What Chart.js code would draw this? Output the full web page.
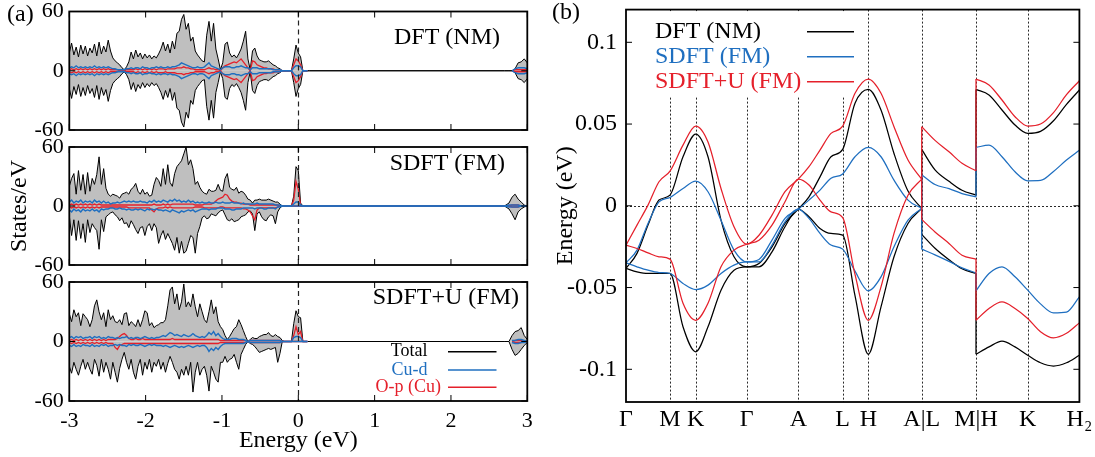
<!DOCTYPE html>
<html>
<head>
<meta charset="utf-8">
<script src="https://cdn.jsdelivr.net/npm/chart.js@4/dist/chart.umd.min.js"></script>
<style>
  html, body { margin:0; padding:0; background:#fff; }
  body { width:1095px; height:457px; position:relative; overflow:hidden; }
  canvas { position:absolute; }
</style>
</head>
<body>
<canvas id="dos1" width="545" height="160" style="left:0px;top:-10px"></canvas>
<canvas id="dos2" width="545" height="160" style="left:0px;top:125px"></canvas>
<canvas id="dos3" width="545" height="198" style="left:0px;top:260px"></canvas>
<canvas id="band" width="570" height="462" style="left:540px;top:-20px"></canvas>
<script>
const FAMILY = "'Liberation Serif','Times New Roman',serif";
Chart.defaults.font.family = FAMILY;
Chart.defaults.color = '#000';
const BLACK = '#000000', BLUE = '#1f6fc0', RED = '#e5202b', GREY = '#bfbfbf';

// ---------------- (a) density of states ----------------
// energy grid (eV): -3.00 ... 0.12 in 0.03 steps, then the high-energy window
const dosEnergy = Array.from({length:105}, (_, i) => Math.round((-3 + 0.03*i)*100)/100)
  .concat([0.15, 2.70, 2.76, 2.80, 2.84, 2.88, 2.92, 2.96, 3.00]);
const dosTicksX = [-3, -2, -1, 0, 1, 2, 3];
const dosTicksY = [-60, 0, 60];
const dosPanelNames = ['DFT (NM)', 'SDFT (FM)', 'SDFT+U (FM)'];
const dosSeriesNames = ['Total', 'Cu-d', 'O-p (Cu)'];

// DFT (NM): spin-up = spin-down (drawn mirrored)
const dftTotal = [18,28,16,24,14,26,17,25,15,23, 18,27,15,29,17,25,19,31,20,13, 10,8,6,3,1,4,9,19,12,21,
  14,18,12,17,13,16,12,15,13,17, 22,29,20,27,18,30,22,38,40,52, 57,42,48,30,34,20,16,13,10,9,
  36,50,30,48,22,12,1,8,27,29, 18,14,16,13,17,22,30,40,12,1, 20,23,15,11,10,9,9,10,8,6,
  5,3,2,0,0,0,0,0,12,26, 18,14,0,0,0,  0,0,0,0,2,8,9,12,8];
const dftCuD = [3,4,3,5,3,4,3,4,3,4, 3,5,3,4,3,4,3,4,3,2, 2,1,1,1,1,2,2,3,2,3,
  3,2,4,3,3,2,3,3,4,3, 4,3,3,4,3,4,4,5,6,8, 7,6,5,4,3,3,4,3,3,4,
  6,8,5,4,3,2,1,3,4,4, 4,3,3,4,4,5,4,3,3,1, 3,3,3,2,2,2,2,2,2,1,
  1,1,1,0,0,0,0,0,3,5, 5,4,0,0,0,  null,null,null,0,2,3,3,3,2];
const dftOp = [1,2,1,2,1,2,1,2,1,2, 1,2,1,2,1,2,1,2,1,1, 1,1,0,0,0,1,1,1,1,2,
  1,2,1,2,1,2,1,2,1,2, 2,2,1,2,2,2,2,3,3,3, 4,3,3,2,2,1,1,1,1,1,
  2,3,2,2,1,1,0,3,5,6, 7,8,9,8,10,12,9,6,3,0, 10,9,6,5,4,3,3,2,2,2,
  1,1,1,0,0,0,0,0,6,12, 10,6,0,0,0,  null,null,null,0,1,1,1,1,1];

// SDFT (FM)
const sdftTotalUp = [20,28,33,12,36,16,32,12,34,15, 28,22,32,50,22,38,18,12,10,12, 11,10,8,12,13,14,12,17,19,23,
  15,12,17,12,14,10,11,22,29,26, 20,38,22,42,24,20,33,40,43,46, 53,60,42,47,38,22,25,19,15,13,
  12,17,15,15,16,22,16,15,28,33, 19,17,16,19,13,15,14,11,7,6, 3,6,6,7,6,6,6,7,6,5,
  4,4,2,0,0,0,0,0,10,40, 36,3,0,0,0,  0,0,3,9,12,7,4,1,0];
const sdftTotalDn = [-10,-30,-14,-35,-15,-33,-18,-37,-14,-27, -18,-22,-25,-44,-14,-26,-11,-9,-7,-6, -9,-11,-15,-12,-18,-17,-22,-15,-19,-24,
  -28,-22,-21,-30,-21,-18,-25,-18,-22,-38, -30,-25,-34,-28,-33,-38,-45,-32,-48,-36, -48,-46,-38,-30,-32,-48,-28,-21,-12,-10,
  -13,-12,-8,-9,-10,-7,-5,-4,-9,-14, -15,-13,-16,-15,-14,-11,-10,-9,-6,-5, -8,-25,-8,-6,-11,-14,-15,-11,-9,-10,
  -18,-6,-2,0,0,0,0,0,0,0, 0,0,0,0,0,  0,0,-3,-8,-14,-6,-3,-1,0];
const sdftCuDUp = [4,6,3,5,4,6,3,5,4,5, 3,6,4,5,3,5,3,4,2,3, 3,4,3,4,5,4,5,4,5,4,
  4,5,4,4,3,5,4,6,4,5, 4,6,5,4,6,5,7,5,6,4, 5,4,6,4,5,3,4,3,4,3,
  3,4,3,3,4,3,3,4,3,3, 3,4,3,3,3,2,3,2,2,2, 2,2,3,2,2,2,2,2,2,2,
  1,1,1,0,0,0,0,0,2,4, 4,1,0,0,0,  0,0,1,1,1,1,0,0,0];
const sdftCuDDn = [-4,-6,-3,-5,-4,-6,-3,-5,-4,-5, -3,-5,-4,-6,-3,-4,-3,-3,-2,-2, -3,-3,-2,-3,-3,-4,-3,-4,-4,-3,
  -4,-3,-4,-5,-3,-4,-3,-4,-3,-4, -4,-5,-4,-5,-6,-4,-5,-6,-7,-5, -6,-5,-4,-5,-4,-6,-5,-4,-3,-3,
  -3,-4,-3,-3,-3,-2,-2,-2,-3,-3, -3,-4,-4,-3,-3,-3,-2,-2,-2,-2, -2,-3,-2,-2,-2,-3,-3,-2,-2,-2,
  -3,-1,-1,0,0,0,0,0,0,0, 0,0,0,0,0,  0,0,-1,-1,-1,-1,0,0,0];
const sdftOpUp = [1,2,1,2,1,2,1,2,1,2, 1,2,1,2,1,1,1,1,1,1, 1,1,1,1,1,1,1,1,1,1,
  1,1,1,1,1,1,1,2,1,1, 1,2,1,2,1,2,2,2,2,2, 2,2,2,2,2,1,1,1,1,2,
  2,2,2,3,5,7,8,9,12,11, 7,5,4,4,3,3,2,2,2,1, 1,1,1,1,1,1,1,1,1,1,
  1,1,0,0,0,0,0,0,6,25, 17,1,0,0,0,  0,0,0,1,1,1,0,0,0];
const sdftOpDn = [-1,-2,-1,-2,-1,-2,-1,-2,-1,-2, -1,-2,-1,-2,-1,-1,-1,-1,-1,-1, -1,-1,-1,-1,-1,-1,-2,-2,-2,-2,
  -2,-2,-2,-2,-2,-2,-4,-6,-3,-2, -2,-2,-1,-2,-1,-2,-2,-2,-2,-2, -2,-2,-2,-2,-2,-1,-1,-1,-1,-2,
  -2,-2,-2,-2,-2,-2,-1,-1,-2,-2, -2,-2,-2,-2,-2,-2,-3,-3,-4,-6, -10,-14,-4,-2,-2,-2,-2,-2,-2,-2,
  -2,-1,0,0,0,0,0,0,0,0, 0,0,0,0,0,  0,0,0,-1,-1,-1,0,0,0];

// SDFT+U (FM)
const sdftuTotalUp = [28,20,32,25,29,16,28,25,22,15, 22,36,42,30,22,29,15,32,22,26, 20,19,22,17,28,29,16,20,18,15,
  22,15,22,31,29,16,19,14,16,17, 19,19,22,36,52,55,38,48,32,40, 58,35,40,35,48,35,25,38,30,22,
  19,30,42,28,35,20,15,12,6,2, 5,9,13,15,22,17,11,5,0,2, 4,3,3,5,6,7,7,9,6,5,
  7,5,4,1,0,0,0,0,18,31, 25,24,0,0,0,  0,0,0,6,10,11,14,6,2];
const sdftuTotalDn = [-25,-32,-21,-28,-34,-25,-18,-28,-21,-28, -33,-18,-24,-35,-18,-31,-21,-28,-38,-21, -31,-41,-27,-18,-11,-21,-28,-18,-31,-38,
  -25,-18,-34,-21,-28,-18,-31,-21,-25,-18, -28,-21,-31,-22,-15,-21,-28,-31,-38,-28, -34,-25,-34,-21,-51,-31,-21,-34,-28,-25,
  -34,-50,-25,-31,-38,-41,-21,-21,-15,-21, -18,-17,-13,-21,-28,-13,-8,-3,0,-2, -3,-5,-8,-11,-10,-9,-8,-7,-8,-7,
  -6,-21,-12,0,0,0,0,0,0,0, 0,0,0,0,0,  0,0,0,-8,-14,-12,-8,-4,-1];
const sdftuCuDUp = [4,5,3,5,4,5,3,4,4,5, 3,5,4,5,3,4,3,5,4,4, 3,4,3,4,4,5,3,4,3,4,
  4,3,4,5,4,3,4,3,4,4, 5,6,5,7,9,8,6,7,6,5, 7,6,5,6,8,6,5,4,5,4,
  6,9,7,10,6,8,5,3,2,2, 2,3,3,3,2,2,2,1,0,1, 1,1,1,1,1,1,1,1,1,1,
  1,1,1,0,0,0,0,0,4,5, 5,4,0,0,0,  null,null,null,1,1,2,2,1,0];
const sdftuCuDDn = [-4,-5,-3,-5,-4,-5,-3,-4,-4,-5, -3,-5,-4,-5,-3,-4,-3,-5,-4,-4, -3,-4,-3,-4,-4,-5,-3,-4,-3,-4,
  -4,-3,-4,-5,-4,-3,-4,-3,-4,-4, -4,-5,-4,-5,-6,-5,-4,-5,-6,-5, -6,-5,-4,-5,-6,-5,-4,-5,-4,-4,
  -6,-10,-7,-9,-6,-8,-5,-3,-2,-2, -2,-2,-2,-2,-2,-2,-2,-1,0,-1, -1,-1,-1,-1,-1,-1,-1,-1,-1,-1,
  -1,-1,-1,0,0,0,0,0,0,0, 0,0,0,0,0,  null,null,null,-1,-2,-2,-1,-1,0];
const sdftuOpUp = [1,2,1,2,1,2,1,2,1,2, 1,2,1,2,1,2,1,2,2,2, 2,3,5,7,8,6,3,2,2,3,
  2,2,3,2,2,2,2,2,2,2, 2,2,2,2,2,3,2,2,2,2, 2,2,2,2,2,2,2,2,2,2,
  2,2,2,2,2,2,1,1,1,1, 1,1,1,1,1,1,1,1,0,1, 1,1,1,1,1,1,1,1,1,1,
  1,1,1,0,0,0,0,0,6,15, 7,10,0,0,0,  null,null,null,0,1,1,1,0,0];
const sdftuOpDn = [-1,-2,-1,-2,-1,-2,-1,-2,-1,-2, -1,-2,-1,-2,-1,-2,-1,-2,-2,-2, -6,-8,-4,-3,-2,-2,-2,-2,-2,-2,
  -2,-2,-2,-2,-2,-2,-2,-2,-2,-2, -2,-2,-2,-2,-2,-2,-2,-2,-2,-2, -2,-2,-2,-2,-2,-2,-2,-2,-2,-2,
  -2,-2,-2,-2,-2,-2,-1,-1,-1,-1, -1,-1,-1,-1,-1,-1,-1,-1,0,-1, -1,-1,-1,-1,-1,-1,-1,-1,-1,-1,
  -1,-1,-1,0,0,0,0,0,0,0, 0,0,0,0,0,  null,null,null,0,-1,-1,-1,0,0];

// ---------------- (b) band structure ----------------
const kTickPos = [0, 44, 69.7, 120.7, 172.3, 216.7, 242.3, 295.7, 350, 401.7, 453.4];
const kTickLabels = ['\u0393', 'M', 'K', '\u0393', 'A', 'L', 'H', 'A|L', 'M|H', 'K', 'H\u2082'];
const energyTicks = [-0.1, -0.05, 0, 0.05, 0.1];
const bandSeriesNames = ['DFT (NM)', 'SDFT (FM)', 'SDFT+U (FM)'];
// k-path samples: piece A = Γ-M-K-Γ-A-L-H-A, piece B = L-M, piece C = H-K-H2
const kA = [0, 11, 22, 33, 44, 57, 69.7, 82, 95, 108, 120.7, 133, 146, 159, 172.3, 183, 194, 205, 216.7, 229, 242.3, 255, 268, 282, 295.7];
const kB = [295.7, 309, 323, 336, 350];
const kC = [350, 363, 376, 389, 401.7, 414.5, 427.5, 440.5, 453.4];

const dftUpperA = [-0.0383,-0.0291,-0.0118,0.0035,0.0065,0.030,0.0439,0.030,-0.0088,-0.0312,-0.0373,-0.0353,-0.0251,-0.0108,-0.002,0.0055,0.0177,0.030,0.0345,0.0627,0.0712,0.0586,0.032,0.009,-0.0016];
const dftLowerA = [-0.0383,-0.0404,-0.0414,-0.0414,-0.0414,-0.074,-0.0893,-0.074,-0.0516,-0.0394,-0.0373,-0.0373,-0.0282,-0.0128,-0.002,-0.0067,-0.0139,-0.0169,-0.0179,-0.055,-0.0908,-0.0618,-0.0312,-0.0108,-0.0016];
const dftUpperB = [0.0345, 0.022, 0.015, 0.0095, 0.0065];
const dftLowerB = [-0.0175, -0.026, -0.033, -0.0385, -0.0414];
const dftUpperC = [0.0712, 0.0678, 0.0586, 0.0494, 0.0443, 0.0455, 0.052, 0.062, 0.0708];
const dftLowerC = [-0.0908, -0.0863, -0.0828, -0.0863, -0.0914, -0.096, -0.098, -0.096, -0.0914];

const sdftUpperA = [-0.0349,-0.0271,-0.0108,0.0024,0.0051,0.0106,0.0151,0.0086,-0.0088,-0.0271,-0.0343,-0.0328,-0.021,-0.0077,-0.002,0.0035,0.0096,0.0168,0.0195,0.030,0.0357,0.030,0.0157,0.0035,-0.0016];
const sdftLowerA = [-0.0349,-0.0373,-0.0394,-0.0408,-0.0414,-0.0475,-0.0512,-0.0485,-0.0414,-0.0363,-0.0343,-0.0343,-0.024,-0.0098,-0.002,-0.0077,-0.0169,-0.024,-0.0265,-0.040,-0.052,-0.0435,-0.0251,-0.0088,-0.0016];
const sdftUpperB = [0.019, 0.013, 0.0105, 0.0075, 0.0055];
const sdftLowerB = [-0.0265, -0.030, -0.034, -0.038, -0.041];
const sdftUpperC = [0.0357, 0.0371, 0.030, 0.0208, 0.0153, 0.0155, 0.021, 0.028, 0.034];
const sdftLowerC = [-0.052, -0.0414, -0.0373, -0.0434, -0.0516, -0.060, -0.0655, -0.065, -0.0557];

const sdftuUpperA = [-0.0241,-0.0118,0.0004,0.0147,0.0212,0.0371,0.0488,0.039,0.0106,-0.0128,-0.0235,-0.018,-0.0057,0.0086,0.0163,0.0239,0.0341,0.0443,0.0487,0.0688,0.0775,0.0688,0.0484,0.028,0.0163];
const sdftuLowerA = [-0.0241,-0.0261,-0.0288,-0.0312,-0.0326,-0.0596,-0.070,-0.0596,-0.0373,-0.0271,-0.0235,-0.021,-0.0118,0.0025,0.0163,0.0127,0.0035,-0.0037,-0.0072,-0.042,-0.070,-0.0496,-0.0169,0.0065,0.0163];
const sdftuUpperB = [0.0484, 0.040, 0.033, 0.026, 0.0214];
const sdftuLowerB = [-0.0083, -0.016, -0.023, -0.0302, -0.0326];
const sdftuUpperC = [0.0775, 0.0739, 0.0647, 0.0545, 0.0488, 0.050, 0.057, 0.068, 0.0765];
const sdftuLowerC = [-0.070, -0.0628, -0.0588, -0.0628, -0.0689, -0.077, -0.0808, -0.078, -0.0716];

// ---------------- helpers / plugins ----------------
const pts = arr => arr.map((v, i) => ({x: dosEnergy[i], y: v}));
const neg = arr => arr.map(v => v == null ? null : -v);

function makeFrame(cfg) {
  return {
    id: 'frame',
    beforeDatasetsDraw(chart) {
      const {ctx, chartArea: a, scales: {x, y}} = chart;
      ctx.save();
      ctx.strokeStyle = '#111'; ctx.lineWidth = 0.9; ctx.setLineDash([2, 2]);
      (cfg.vDotted || []).forEach(v => {
        const p = Math.round(x.getPixelForValue(v)) + 0.5;
        ctx.beginPath(); ctx.moveTo(p, a.top); ctx.lineTo(p, a.bottom); ctx.stroke();
      });
      (cfg.hDotted || []).forEach(v => {
        const p = Math.round(y.getPixelForValue(v)) + 0.5;
        ctx.beginPath(); ctx.moveTo(a.left, p); ctx.lineTo(a.right, p); ctx.stroke();
      });
      ctx.setLineDash([]);
      if (cfg.clearBox) {
        const [ox, oy] = cfg.offset, b = cfg.clearBox;
        ctx.fillStyle = '#fff';
        ctx.fillRect(a.left + 1.5, a.top + 1.5, b.x2 - ox - a.left - 1.5, b.y2 - oy - a.top - 1.5);
      }
      ctx.restore();
    },
    afterDatasetsDraw(chart) {
      const {ctx, chartArea: a, scales: {x, y}} = chart;
      ctx.save();
      ctx.strokeStyle = '#222'; ctx.lineWidth = 1.2; ctx.setLineDash([5, 4]);
      (cfg.vDashed || []).forEach(v => {
        const p = Math.round(x.getPixelForValue(v)) + 0.5;
        ctx.beginPath(); ctx.moveTo(p, a.top); ctx.lineTo(p, a.bottom); ctx.stroke();
      });
      ctx.setLineDash([]);
      ctx.strokeStyle = '#000'; ctx.lineWidth = 1;
      const L = cfg.tickLen || 6;
      (cfg.xTicks || []).forEach(v => {
        const p = x.getPixelForValue(v);
        ctx.beginPath(); ctx.moveTo(p, a.bottom); ctx.lineTo(p, a.bottom - L);
        ctx.moveTo(p, a.top); ctx.lineTo(p, a.top + L); ctx.stroke();
      });
      (cfg.yTicks || []).forEach(v => {
        const p = y.getPixelForValue(v);
        ctx.beginPath(); ctx.moveTo(a.left, p); ctx.lineTo(a.left + L, p);
        ctx.moveTo(a.right, p); ctx.lineTo(a.right - L, p); ctx.stroke();
      });
      ctx.lineWidth = 1.8;
      ctx.strokeRect(a.left, a.top, a.right - a.left, a.bottom - a.top);
      ctx.restore();
    }
  };
}

function makeNotes(cfg) {
  return {
    id: 'notes',
    afterDraw(chart) {
      const ctx = chart.ctx, [ox, oy] = cfg.offset;
      ctx.save();
      (cfg.texts || []).forEach(t => {
        ctx.font = t.size + 'px ' + FAMILY;
        ctx.fillStyle = t.color || '#000';
        ctx.textAlign = t.align || 'left';
        ctx.textBaseline = 'middle';
        ctx.fillText(t.text, t.x - ox, t.y - oy);
      });
      (cfg.lines || []).forEach(l => {
        ctx.strokeStyle = l.color; ctx.lineWidth = l.width || 1.5;
        ctx.beginPath(); ctx.moveTo(l.x1 - ox, l.y - oy); ctx.lineTo(l.x2 - ox, l.y - oy); ctx.stroke();
      });
      ctx.restore();
    }
  };
}

function makeDos(id, d) {
  const line = (data, color, w, order, fill) => ({
    data: pts(data), borderColor: color, borderWidth: w, order,
    backgroundColor: fill ? GREY : 'transparent', fill: fill ? 'origin' : false,
    pointRadius: 0, tension: 0, spanGaps: false
  });
  new Chart(document.getElementById(id), {
    type: 'line',
    data: { datasets: [
      Object.assign(line(d.cuUp, BLUE, 1.4, 0, false), {label: dosSeriesNames[1]}),
      Object.assign(line(d.cuDn, BLUE, 1.4, 0, false), {label: dosSeriesNames[1]}),
      Object.assign(line(d.opUp, RED, 1.3, 1, false), {label: dosSeriesNames[2]}),
      Object.assign(line(d.opDn, RED, 1.3, 1, false), {label: dosSeriesNames[2]}),
      Object.assign(line(d.totUp, BLACK, 1, 2, true), {label: dosSeriesNames[0]}),
      Object.assign(line(d.totDn, BLACK, 1, 2, true), {label: dosSeriesNames[0]})
    ]},
    options: {
      responsive: false, animation: false, devicePixelRatio: 1,
      layout: { padding: { left: 0, right: 17.7, top: d.padTop, bottom: 0 } },
      plugins: { legend: { display: false }, tooltip: { enabled: false } },
      scales: {
        x: {
          type: 'linear', min: -3, max: 3,
          afterBuildTicks: s => { s.ticks = dosTicksX.map(v => ({value: v})); },
          grid: { display: false, drawTicks: false }, border: { display: false },
          ticks: { display: d.showX, autoSkip: false, maxRotation: 0, padding: 6.8,
                   font: { size: 22 }, color: '#000', callback: v => String(v) },
          title: { display: d.showX, text: 'Energy (eV)', font: { size: 24 }, color: '#000',
                   padding: { top: 0, bottom: 2.6 } },
          afterFit: s => { s.height = d.xH; }
        },
        y: {
          type: 'linear', min: -60, max: 60,
          afterBuildTicks: s => { s.ticks = dosTicksY.map(v => ({value: v})); },
          grid: { display: false, drawTicks: false }, border: { display: false },
          ticks: { font: { size: 22 }, color: '#000', padding: 5.5, callback: v => String(v) },
          title: { display: !!d.yTitle, text: d.yTitle || '', font: { size: 24 }, color: '#000',
                   padding: { top: 5.6, bottom: 0 } },
          afterFit: s => { s.width = 69.3; }
        }
      }
    },
    plugins: [
      makeFrame({ vDashed: [0], xTicks: dosTicksX, yTicks: dosTicksY, tickLen: 6 }),
      makeNotes(d.notes)
    ]
  });
}

makeDos('dos1', {
  totUp: dftTotal, totDn: neg(dftTotal), cuUp: dftCuD, cuDn: neg(dftCuD), opUp: dftOp, opDn: neg(dftOp),
  padTop: 21.5, xH: 20, showX: false,
  notes: { offset: [0, -10], texts: [
    { text: '(a)', x: 7, y: 15, size: 24, align: 'left' },
    { text: dosPanelNames[0], x: 500, y: 38, size: 24, align: 'right' }
  ]}
});
makeDos('dos2', {
  totUp: sdftTotalUp, totDn: sdftTotalDn, cuUp: sdftCuDUp, cuDn: sdftCuDDn, opUp: sdftOpUp, opDn: sdftOpDn,
  padTop: 22, xH: 20, showX: false, yTitle: 'States/eV',
  notes: { offset: [0, 125], texts: [
    { text: dosPanelNames[1], x: 505, y: 164, size: 24, align: 'right' }
  ]}
});
makeDos('dos3', {
  totUp: sdftuTotalUp, totDn: sdftuTotalDn, cuUp: sdftuCuDUp, cuDn: sdftuCuDDn, opUp: sdftuOpUp, opDn: sdftuOpDn,
  padTop: 22, xH: 57, showX: true,
  notes: { offset: [0, 260], texts: [
    { text: dosPanelNames[2], x: 519, y: 298, size: 24, align: 'right' },
    { text: dosSeriesNames[0], x: 427.6, y: 351.7, size: 18, align: 'right', color: BLACK },
    { text: dosSeriesNames[1], x: 427.6, y: 370, size: 18, align: 'right', color: BLUE },
    { text: dosSeriesNames[2], x: 441, y: 387.3, size: 18, align: 'right', color: RED }
  ], lines: [
    { x1: 448, x2: 496.5, y: 351.7, color: BLACK, width: 1.5 },
    { x1: 448, x2: 496.5, y: 370, color: BLUE, width: 1.5 },
    { x1: 448, x2: 496.5, y: 387.3, color: RED, width: 1.5 }
  ]}
});

// ---------------- band chart ----------------
const kPieces = [kA, kB, kC];
const bandSeries = [
  { name: bandSeriesNames[2], color: RED,   pieces: [[sdftuUpperA, sdftuLowerA], [sdftuUpperB, sdftuLowerB], [sdftuUpperC, sdftuLowerC]] },
  { name: bandSeriesNames[1], color: BLUE,  pieces: [[sdftUpperA, sdftLowerA], [sdftUpperB, sdftLowerB], [sdftUpperC, sdftLowerC]] },
  { name: bandSeriesNames[0], color: BLACK, pieces: [[dftUpperA, dftLowerA], [dftUpperB, dftLowerB], [dftUpperC, dftLowerC]] }
];
const bandDatasets = [];
bandSeries.forEach(s => {
  s.pieces.forEach((pair, pi) => pair.forEach(arr => bandDatasets.push({
    label: s.name, data: arr.map((v, i) => ({x: kPieces[pi][i], y: v})),
    borderColor: s.color, borderWidth: 1.25, cubicInterpolationMode: 'monotone',
    pointRadius: 0, fill: false
  })));
  for (let pi = 0; pi < 2; pi++) for (let b = 0; b < 2; b++) {
    const a = s.pieces[pi][b], c = s.pieces[pi + 1][b], xj = kPieces[pi + 1][0];
    bandDatasets.push({
      label: s.name, data: [{x: xj, y: a[a.length - 1]}, {x: xj, y: c[0]}],
      borderColor: s.color, borderWidth: 1.25, pointRadius: 0, fill: false, tension: 0
    });
  }
});

new Chart(document.getElementById('band'), {
  type: 'line',
  data: { datasets: bandDatasets },
  options: {
    responsive: false, animation: false, devicePixelRatio: 1,
    layout: { padding: { left: 0, right: 30.6, top: 29.6, bottom: 0 } },
    plugins: { legend: { display: false }, tooltip: { enabled: false } },
    scales: {
      x: {
        type: 'linear', min: 0, max: kTickPos[kTickPos.length - 1],
        afterBuildTicks: s => { s.ticks = kTickPos.map(v => ({value: v})); },
        grid: { display: false, drawTicks: false }, border: { display: false },
        ticks: { autoSkip: false, maxRotation: 0, padding: 3.6, font: { size: 24 }, color: '#000',
                 callback: (v, i) => kTickLabels[i] },
        afterFit: s => { s.height = 40; }
      },
      y: {
        type: 'linear', min: -0.12, max: 0.12,
        afterBuildTicks: s => { s.ticks = energyTicks.map(v => ({value: v})); },
        grid: { display: false, drawTicks: false }, border: { display: false },
        ticks: { font: { size: 24 }, color: '#000', padding: 9, callback: v => String(+v.toFixed(2)) },
        title: { display: true, text: 'Energy (eV)', font: { size: 24 }, color: '#000',
                 padding: { top: 11.6, bottom: 0 } },
        afterFit: s => { s.width = 86; }
      }
    }
  },
  plugins: [
    makeFrame({ vDotted: kTickPos.slice(1, -1), hDotted: [0], yTicks: energyTicks, tickLen: 6,
                clearBox: { x2: 858, y2: 97 }, offset: [540, -20] }),
    makeNotes({ offset: [540, -20], texts: [
      { text: '(b)', x: 552, y: 13, size: 24, align: 'left' },
      { text: bandSeriesNames[0], x: 655, y: 31.7, size: 24, align: 'left', color: BLACK },
      { text: bandSeriesNames[1], x: 655, y: 56.7, size: 24, align: 'left', color: BLUE },
      { text: bandSeriesNames[2], x: 655, y: 81.7, size: 24, align: 'left', color: RED }
    ], lines: [
      { x1: 807, x2: 854, y: 31.7, color: BLACK, width: 1.4 },
      { x1: 807, x2: 854, y: 56.7, color: BLUE, width: 1.4 },
      { x1: 807, x2: 854, y: 81.7, color: RED, width: 1.4 }
    ]})
  ]
});
</script>
</body>
</html>
